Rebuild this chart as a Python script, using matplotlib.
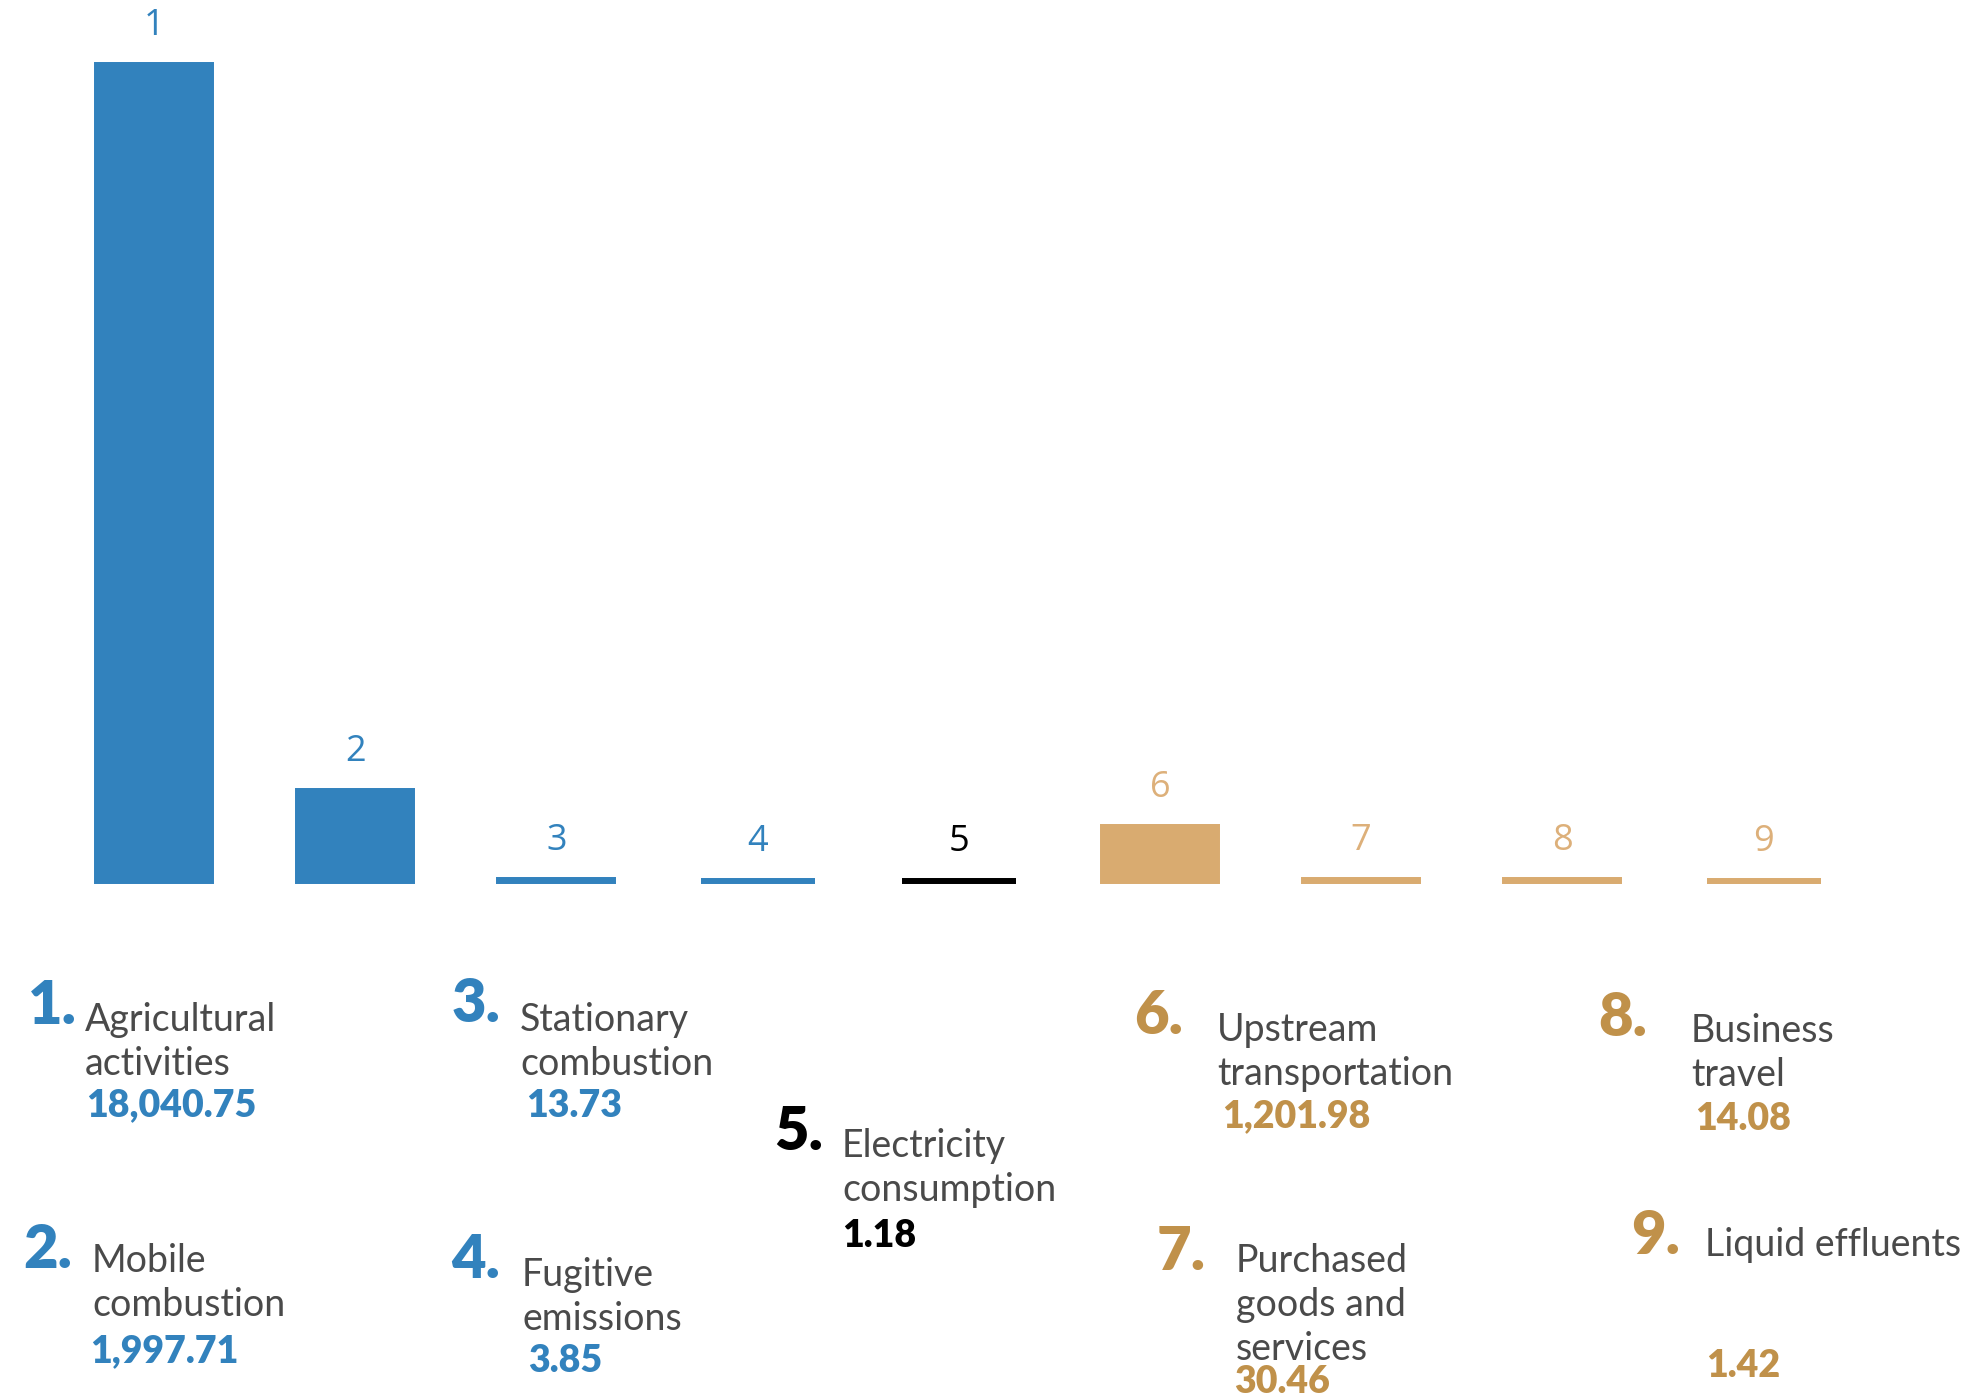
import matplotlib.pyplot as plt

# data
ids = ["1", "2", "3", "4", "5", "6", "7", "8", "9"]
names = ["Agricultural\nactivities", "Mobile\ncombustion", "Stationary\ncombustion",
         "Fugitive\nemissions", "Electricity\nconsumption", "Upstream\ntransportation",
         "Purchased\ngoods and\nservices", "Business\ntravel", "Liquid effluents"]
values = [18040.75, 1997.71, 13.73, 3.85, 1.18, 1201.98, 30.46, 14.08, 1.42]
value_text = ["18,040.75", "1,997.71", "13.73", "3.85", "1.18", "1,201.98", "30.46", "14.08", "1.42"]

BLUE = "#3282BD"
TAN = "#D9AB70"
GOLD = "#C0914A"
GRAY = "#4A4A4A"
bar_colors = [BLUE] * 4 + ["#000000"] + [TAN] * 4
label_colors = [BLUE] * 4 + ["#000000"] + ["#DDB07A"] * 4
text_colors = [BLUE] * 4 + ["#000000"] + [GOLD] * 4

W, H = 1982, 1397
fig = plt.figure(figsize=(W / 100, H / 100), dpi=100)

base_px = 881
top_px = 64.5
ax = fig.add_axes([0, (H - base_px) / H, 1, base_px / H])
xs = list(range(len(values)))
bars = ax.bar(xs, values, width=0.567, color=bar_colors, edgecolor=bar_colors, linewidth=4.3)
for b in bars:
    b.set_clip_on(False)
ax.set_xlim(-154 / 201.2, (W - 154) / 201.2)
ax.set_ylim(0, max(values) * base_px / (base_px - top_px))
ax.axis("off")

for x, v, t, c in zip(xs, values, ids, label_colors):
    ax.annotate(t, (x, v), xytext=(0, 28), textcoords="offset points",
                ha="center", va="center", fontsize=26, color=c,
                family="Open Sans")

# legend blocks (pixel positions in the full image)
num_pos = [(28, 1006), (23, 1251), (452, 1005), (451, 1260), (774, 1133),
           (1134, 1016), (1157, 1253), (1598, 1018), (1631, 1237)]
label_pos = [(85, 1020), (92, 1261), (520, 1020), (522, 1275), (842, 1146),
             (1217, 1030), (1236, 1261), (1691, 1031), (1705, 1245)]
value_pos = [(86, 1105), (90, 1351), (526, 1106), (528, 1361), (842, 1236),
             (1222, 1116), (1234, 1382), (1695, 1119), (1706, 1366)]
line_gap = 44

for i in range(len(ids)):
    nx, ny = num_pos[i]
    fig.text(nx / W, 1 - ny / H, ids[i] + ".", fontsize=43, fontweight="heavy",
             family="Lato", color=text_colors[i], ha="left", va="center")
    lx, ly = label_pos[i]
    for k, line in enumerate(names[i].split("\n")):
        fig.text(lx / W, 1 - (ly + k * line_gap) / H, line, fontsize=27,
                 family="Lato", color=GRAY, ha="left", va="center")
    vx, vy = value_pos[i]
    fig.text(vx / W, 1 - vy / H, value_text[i], fontsize=27, fontweight="heavy",
             family="Lato", color=text_colors[i], ha="left", va="center")

fig.savefig("out.png", dpi=100)
